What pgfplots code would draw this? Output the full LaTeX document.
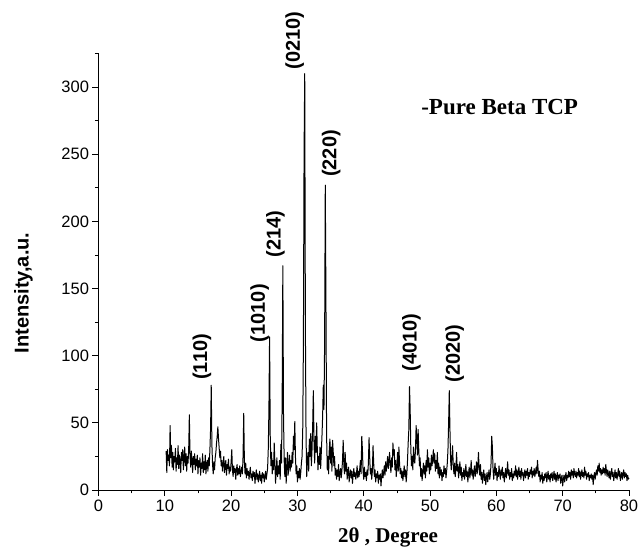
\documentclass[border=0pt]{standalone}
\usepackage{fontspec}
\setmainfont{Liberation Serif}
\setsansfont{Liberation Sans}
\usepackage{pgfplots}
\pgfplotsset{compat=1.18}
\begin{document}
\begin{tikzpicture}
\begin{axis}[
  at={(0,0)}, anchor=south west,
  scale only axis, width=530.5pt, height=436.5pt,
  xmin=0, xmax=80, ymin=0, ymax=325,
  axis lines=left, axis line style={-, line width=0.8pt},
  tick align=outside, tick style={black, line width=0.8pt},
  major tick length=6pt, minor tick length=3.5pt,
  xtick={0,10,...,80}, minor xtick={5,15,...,75},
  ytick={0,50,...,300}, minor ytick={25,75,...,325},
  /pgf/number format/assume math mode=true,
  tick label style={font=\sffamily\fontsize{16.5}{16.5}\selectfont},
  clip=false,
]
\addplot[black, line width=1pt, mark=none, line join=round] coordinates {
(10.2,29)(10.3,13)(10.4,30)(10.5,22)(10.6,26)(10.7,18)(10.8,48)(10.9,24)(11.0,33)(11.1,17)(11.2,28)(11.3,15)(11.4,25)(11.5,21)(11.6,31)(11.7,14)(11.8,24)(11.9,19)
(12.0,33)(12.1,16)(12.2,26)(12.3,21)(12.4,13)(12.5,28)(12.6,22)(12.7,30)(12.8,15)(12.9,24)(13.0,32)(13.1,18)(13.2,27)(13.3,14)(13.4,25)(13.5,20)(13.6,30)(13.7,56)(13.8,26)(13.9,17)
(14.0,29)(14.1,22)(14.2,13)(14.3,25)(14.4,19)(14.5,27)(14.6,15)(14.7,23)(14.8,18)(14.9,26)(15.0,12)(15.1,22)(15.2,17)(15.3,24)(15.4,11)(15.5,20)(15.6,16)(15.7,27)(15.8,13)(15.9,21)
(16.0,15)(16.1,26)(16.2,12)(16.3,19)(16.4,22)(16.5,14)(16.6,24)(16.7,18)(16.8,30)(16.9,45)(17.0,78)(17.1,34)(17.2,19)(17.3,12)(17.4,21)(17.5,15)(17.6,24)(17.7,28)(17.8,35)(17.9,40)
(18.0,47)(18.1,38)(18.2,31)(18.3,24)(18.4,29)(18.5,18)(18.6,22)(18.7,14)(18.8,20)(18.9,25)(19.0,13)(19.1,18)(19.2,22)(19.3,11)(19.4,19)(19.5,16)(19.6,23)(19.7,12)(19.8,17)(19.9,14)
(20.0,21)(20.1,30)(20.2,15)(20.3,10)(20.4,18)(20.5,13)(20.6,16)(20.7,8)(20.8,15)(20.9,19)(21.0,11)(21.1,16)(21.2,12)(21.3,18)(21.4,10)(21.5,14)(21.6,17)(21.7,12)(21.8,25)(21.9,57)
(22.0,22)(22.1,12)(22.2,20)(22.3,9)(22.4,16)(22.5,11)(22.6,14)(22.7,8)(22.8,13)(22.9,17)(23.0,9)(23.1,12)(23.2,7)(23.3,14)(23.4,10)(23.5,13)(23.6,5)(23.7,11)(23.8,15)(23.9,8)
(24.0,12)(24.1,6)(24.2,10)(24.3,14)(24.4,7)(24.5,11)(24.6,5)(24.7,13)(24.8,9)(24.9,12)(25.0,6)(25.1,10)(25.2,14)(25.3,8)(25.4,12)(25.5,16)(25.6,30)(25.7,60)(25.8,114)(25.9,40)
(26.0,18)(26.1,28)(26.2,12)(26.3,22)(26.4,15)(26.5,35)(26.6,20)(26.7,5)(26.8,14)(26.9,24)(27.0,10)(27.1,18)(27.2,12)(27.3,22)(27.4,8)(27.5,34)(27.6,20)(27.7,70)(27.8,167)(27.9,55)
(28.0,22)(28.1,10)(28.2,24)(28.3,5)(28.4,16)(28.5,28)(28.6,11)(28.7,19)(28.8,26)(28.9,14)(29.0,22)(29.1,17)(29.2,28)(29.3,20)(29.4,40)(29.5,30)(29.6,51)(29.7,25)(29.8,12)(29.9,18)
(30.0,6)(30.1,14)(30.2,9)(30.3,16)(30.4,8)(30.5,13)(30.6,20)(30.7,25)(30.8,45)(30.9,110)(31.0,250)(31.1,310)(31.2,120)(31.3,40)(31.4,10)(31.5,22)(31.6,28)(31.7,14)(31.8,38)(31.9,25)
(32.0,42)(32.1,18)(32.2,30)(32.3,48)(32.4,74)(32.5,35)(32.6,20)(32.7,40)(32.8,28)(32.9,50)(33.0,30)(33.1,15)(33.2,25)(33.3,19)(33.4,32)(33.5,16)(33.6,28)(33.7,40)(33.8,55)(33.9,78)
(34.0,60)(34.1,110)(34.2,227)(34.3,140)(34.4,40)(34.5,15)(34.6,25)(34.7,12)(34.8,30)(34.9,38)(35.0,20)(35.1,32)(35.2,14)(35.3,37)(35.4,28)(35.5,18)(35.6,25)(35.7,11)(35.8,16)(35.9,8)
(36.0,15)(36.1,10)(36.2,19)(36.3,7)(36.4,12)(36.5,16)(36.6,9)(36.7,14)(36.8,22)(36.9,37)(37.0,18)(37.1,12)(37.2,28)(37.3,14)(37.4,20)(37.5,8)(37.6,13)(37.7,17)(37.8,6)(37.9,12)
(38.0,15)(38.1,9)(38.2,14)(38.3,5)(38.4,11)(38.5,16)(38.6,10)(38.7,13)(38.8,8)(38.9,12)(39.0,18)(39.1,9)(39.2,14)(39.3,10)(39.4,16)(39.5,22)(39.6,12)(39.7,40)(39.8,30)(39.9,14)
(40.0,8)(40.1,17)(40.2,10)(40.3,13)(40.4,7)(40.5,15)(40.6,11)(40.7,20)(40.8,39)(40.9,24)(41.0,12)(41.1,16)(41.2,8)(41.3,14)(41.4,33)(41.5,20)(41.6,10)(41.7,15)(41.8,6)(41.9,12)
(42.0,9)(42.1,14)(42.2,5)(42.3,11)(42.4,8)(42.5,12)(42.6,3)(42.7,10)(42.8,15)(42.9,9)(43.0,13)(43.1,18)(43.2,11)(43.3,21)(43.4,14)(43.5,19)(43.6,25)(43.7,16)(43.8,22)(43.9,28)
(44.0,18)(44.1,13)(44.2,24)(44.3,17)(44.4,35)(44.5,26)(44.6,30)(44.7,15)(44.8,22)(44.9,10)(45.0,18)(45.1,28)(45.2,14)(45.3,32)(45.4,20)(45.5,12)(45.6,16)(45.7,9)(45.8,14)(45.9,7)
(46.0,12)(46.1,18)(46.2,10)(46.3,15)(46.4,6)(46.5,12)(46.6,22)(46.7,35)(46.8,45)(46.9,77)(47.0,60)(47.1,30)(47.2,18)(47.3,25)(47.4,15)(47.5,32)(47.6,22)(47.7,20)(47.8,30)(47.9,48)
(48.0,38)(48.1,26)(48.2,45)(48.3,30)(48.4,18)(48.5,24)(48.6,10)(48.7,16)(48.8,7)(48.9,13)(49.0,20)(49.1,12)(49.2,18)(49.3,9)(49.4,22)(49.5,14)(49.6,30)(49.7,17)(49.8,24)(49.9,12)
(50.0,20)(50.1,15)(50.2,26)(50.3,18)(50.4,23)(50.5,30)(50.6,20)(50.7,27)(50.8,14)(50.9,22)(51.0,16)(51.1,28)(51.2,12)(51.3,20)(51.4,9)(51.5,17)(51.6,11)(51.7,15)(51.8,7)(51.9,13)
(52.0,10)(52.1,18)(52.2,12)(52.3,16)(52.4,9)(52.5,14)(52.6,20)(52.7,30)(52.8,50)(52.9,74)(53.0,45)(53.1,22)(53.2,15)(53.3,25)(53.4,33)(53.5,18)(53.6,12)(53.7,20)(53.8,10)(53.9,16)
(54.0,28)(54.1,14)(54.2,19)(54.3,9)(54.4,15)(54.5,21)(54.6,11)(54.7,17)(54.8,7)(54.9,13)(55.0,10)(55.1,16)(55.2,8)(55.3,12)(55.4,19)(55.5,10)(55.6,14)(55.7,6)(55.8,12)(55.9,17)
(56.0,9)(56.1,13)(56.2,22)(56.3,11)(56.4,15)(56.5,8)(56.6,13)(56.7,18)(56.8,10)(56.9,14)(57.0,21)(57.1,12)(57.2,17)(57.3,28)(57.4,16)(57.5,11)(57.6,19)(57.7,8)(57.8,13)(57.9,5)
(58.0,11)(58.1,15)(58.2,7)(58.3,12)(58.4,4)(58.5,9)(58.6,13)(58.7,6)(58.8,11)(58.9,15)(59.0,8)(59.1,12)(59.2,20)(59.3,40)(59.4,32)(59.5,15)(59.6,8)(59.7,14)(59.8,20)(59.9,11)
(60.0,16)(60.1,7)(60.2,13)(60.3,10)(60.4,18)(60.5,12)(60.6,8)(60.7,15)(60.8,11)(60.9,17)(61.0,9)(61.1,13)(61.2,6)(61.3,12)(61.4,16)(61.5,9)(61.6,14)(61.7,21)(61.8,11)(61.9,15)
(62.0,8)(62.1,13)(62.2,10)(62.3,16)(62.4,7)(62.5,12)(62.6,9)(62.7,14)(62.8,11)(62.9,18)(63.0,10)(63.1,15)(63.2,8)(63.3,13)(63.4,17)(63.5,10)(63.6,14)(63.7,8)(63.8,16)(63.9,11)
(64.0,13)(64.1,7)(64.2,12)(64.3,15)(64.4,9)(64.5,14)(64.6,11)(64.7,16)(64.8,8)(64.9,13)(65.0,10)(65.1,15)(65.2,12)(65.3,17)(65.4,9)(65.5,14)(65.6,11)(65.7,16)(65.8,10)(65.9,13)
(66.0,17)(66.1,12)(66.2,22)(66.3,15)(66.4,10)(66.5,14)(66.6,6)(66.7,11)(66.8,8)(66.9,13)(67.0,5)(67.1,10)(67.2,7)(67.3,12)(67.4,9)(67.5,13)(67.6,6)(67.7,10)(67.8,14)(67.9,8)
(68.0,11)(68.1,6)(68.2,12)(68.3,9)(68.4,13)(68.5,7)(68.6,10)(68.7,14)(68.8,8)(68.9,12)(69.0,6)(69.1,10)(69.2,13)(69.3,7)(69.4,11)(69.5,9)(69.6,12)(69.7,5)(69.8,9)(69.9,11)
(70.0,3)(70.1,8)(70.2,11)(70.3,6)(70.4,10)(70.5,13)(70.6,7)(70.7,11)(70.8,9)(70.9,14)(71.0,10)(71.1,13)(71.2,8)(71.3,15)(71.4,11)(71.5,14)(71.6,9)(71.7,16)(71.8,12)(71.9,10)
(72.0,14)(72.1,9)(72.2,13)(72.3,11)(72.4,16)(72.5,10)(72.6,14)(72.7,8)(72.8,12)(72.9,15)(73.0,10)(73.1,13)(73.2,9)(73.3,17)(73.4,11)(73.5,14)(73.6,8)(73.7,12)(73.8,10)(73.9,13)
(74.0,7)(74.1,11)(74.2,9)(74.3,12)(74.4,8)(74.5,11)(74.6,4)(74.7,10)(74.8,13)(74.9,8)(75.0,12)(75.1,15)(75.2,11)(75.3,18)(75.4,14)(75.5,20)(75.6,13)(75.7,16)(75.8,11)(75.9,15)
(76.0,12)(76.1,17)(76.2,13)(76.3,16)(76.4,11)(76.5,19)(76.6,14)(76.7,10)(76.8,15)(76.9,12)(77.0,9)(77.1,14)(77.2,8)(77.3,12)(77.4,16)(77.5,10)(77.6,13)(77.7,7)(77.8,11)(77.9,15)
(78.0,9)(78.1,13)(78.2,8)(78.3,12)(78.4,16)(78.5,10)(78.6,14)(78.7,7)(78.8,11)(78.9,13)(79.0,8)(79.1,12)(79.2,15)(79.3,9)(79.4,13)(79.5,10)(79.6,12)(79.7,7)(79.8,11)(79.9,8)(80.0,9)
};
\begin{scope}[every node/.style={rotate=90, anchor=west, inner sep=0pt, font=\sffamily\bfseries\fontsize{20}{20}\selectfont}]
\node at (axis cs:15.6,82) {(110)};
\node at (axis cs:24.3,110) {(1010)};
\node at (axis cs:26.7,173) {(214)};
\node at (axis cs:29.6,313) {(0210)};
\node at (axis cs:35.1,233) {(220)};
\node at (axis cs:47.2,88) {(4010)};
\node at (axis cs:53.7,80) {(2020)};
\end{scope}
\node[font=\bfseries\fontsize{23}{23}\selectfont, inner sep=0pt] at (axis cs:60.5,285) {-Pure Beta TCP};
\end{axis}
\node[font=\bfseries\fontsize{21}{21}\selectfont, inner sep=0pt] at (289.5pt,-47pt) {2θ , Degree};
\node[rotate=90, font=\sffamily\bfseries\fontsize{20}{20}\selectfont, inner sep=0pt] at (-75pt,197pt) {Intensity,a.u.};
\pgfresetboundingbox
\path[use as bounding box] (-98.5pt,-58pt) rectangle (539.5pt,490pt);
\end{tikzpicture}
\end{document}
